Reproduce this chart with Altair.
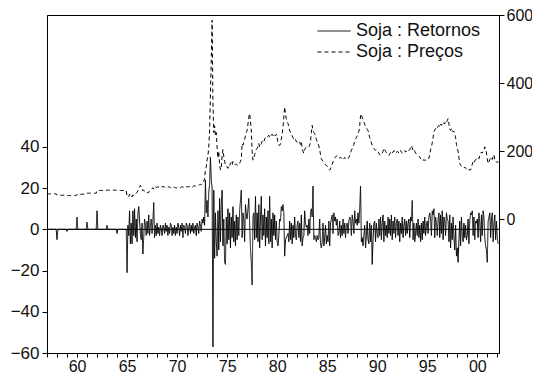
import altair as alt
import pandas as pd

START_YEAR = 1957

# Monthly soybean prices (right axis), one row per year, Jan..Dec
price = [
    75, 75, 75, 75, 75, 75, 75, 75, 75, 75, 75, 75,          # 1957
    71, 71, 71, 71, 71, 71, 71, 71, 71, 71, 71, 71,          # 1958
    70, 70, 70, 70, 70, 70, 70, 70, 70, 70, 70, 70,          # 1959
    74, 74, 74, 74, 74, 74, 74, 74, 74, 74, 74, 74,          # 1960
    77, 77, 77, 77, 77, 77, 77, 77, 77, 77, 77, 77,          # 1961
    85, 85, 85, 85, 85, 85, 85, 85, 85, 85, 85, 85,          # 1962
    86, 86, 86, 86, 86, 86, 86, 86, 86, 86, 86, 86,          # 1963
    85, 85, 85, 85, 85, 85, 85, 85, 85, 85, 85, 85,          # 1964
    68, 69, 67, 74, 69, 71, 66, 72, 70, 72, 74, 77,          # 1965
    80, 84, 90, 96, 100, 95, 92, 84, 86, 82, 80, 78,         # 1966
    77, 80, 79, 85, 86, 88, 91, 93, 89, 96, 95, 94,          # 1967
    95, 96, 95, 97, 98, 96, 95, 97, 96, 95, 94, 96,          # 1968
    95, 94, 96, 95, 93, 94, 92, 93, 95, 94, 93, 92,          # 1969
    93, 94, 95, 94, 93, 95, 96, 95, 94, 96, 97, 96,          # 1970
    95, 96, 97, 96, 98, 97, 95, 96, 98, 99, 98, 97,          # 1971
    98, 99, 100, 102, 103, 101, 104, 107, 112, 120, 145, 155,  # 1972
    175, 185, 215, 260, 370, 470, 585, 340, 255, 275, 245, 255,  # 1973
    210, 180, 200, 160, 145, 150, 190, 205, 185, 170, 160, 158,  # 1974
    154, 150, 160, 158, 165, 168, 160, 170, 165, 160, 163, 162,  # 1975
    160, 158, 162, 165, 170, 178, 223, 218, 227, 235, 245, 255,  # 1976
    262, 280, 300, 311, 290, 260, 200, 174, 180, 190, 200, 205,  # 1977
    209, 215, 223, 212, 218, 222, 230, 232, 228, 236, 240, 238,  # 1978
    242, 245, 247, 240, 244, 248, 250, 246, 252, 248, 245, 250,  # 1979
    240, 225, 218, 217, 222, 235, 250, 270, 300, 330, 310, 295,  # 1980
    285, 282, 270, 262, 255, 252, 245, 240, 236, 232, 235, 228,  # 1981
    227, 230, 225, 227, 220, 228, 210, 200, 194, 205, 210, 212,  # 1982
    212, 215, 213, 217, 228, 255, 276, 262, 255, 252, 245, 235,  # 1983
    228, 223, 215, 205, 190, 178, 174, 170, 166, 163, 160, 158,  # 1984
    157, 152, 147, 145, 148, 155, 162, 169, 175, 180, 183, 186,  # 1985
    188, 185, 182, 180, 183, 179, 176, 180, 178, 182, 179, 177,  # 1986
    180, 178, 182, 188, 195, 203, 208, 215, 220, 232, 236, 240,  # 1987
    245, 252, 258, 275, 305, 310, 298, 291, 285, 280, 272, 268,  # 1988
    265, 261, 250, 240, 235, 225, 217, 212, 208, 206, 203, 205,  # 1989
    203, 198, 195, 190, 188, 192, 195, 200, 209, 205, 200, 196,  # 1990
    194, 190, 188, 192, 196, 200, 195, 198, 202, 197, 199, 196,  # 1991
    200, 198, 195, 199, 203, 197, 194, 196, 199, 202, 198, 200,  # 1992
    196, 199, 202, 205, 210, 217, 210, 203, 206, 200, 195, 192,  # 1993
    190, 188, 185, 183, 178, 175, 174, 172, 176, 173, 174, 175,  # 1994
    174, 176, 180, 190, 205, 213, 225, 240, 257, 262, 266, 271,  # 1995
    268, 273, 276, 271, 280, 276, 281, 278, 284, 280, 288, 285,  # 1996
    290, 296, 280, 265, 261, 268, 262, 257, 259, 250, 240, 220,  # 1997
    210, 200, 180, 165, 160, 157, 155, 152, 151, 154, 150, 148,  # 1998
    147, 145, 148, 144, 146, 153, 162, 169, 165, 172, 175, 178,  # 1999
    180, 183, 178, 188, 192, 198, 195, 200, 205, 213, 208, 195,  # 2000
    178, 164, 170, 175, 183, 180, 176, 185, 190, 175, 172, 168,  # 2001
    170, 166,                                                    # 2002
]

# Monthly returns in % (left axis), one row per year, Jan..Dec
returns = [
    0, 0, 0, 0, 0, 0, 0, 0, 0, 0, 0, 0,                 # 1957
    -5, 0, 0, 0, 0, 0, 0, 0, 0, 0, 0, 0,                # 1958
    -1, 0, 0, 0, 0, 0, 0, 0, 0, 0, 0, 0,                # 1959
    6, 0, 0, 0, 0, 0, 0, 0, 0, 0, 0, 0,                 # 1960
    3.5, 0, 0, 0, 0, 0, 0, 0, 0, 0, 0, 0,               # 1961
    9, 0, 0, 0, 0, 0, 0, 0, 0, 0, 0, 0,                 # 1962
    2, 0, 0, 0, 0, 0, 0, 0, 0, 0, 0, 0,                 # 1963
    -2, 0, 0, 0, 0, 0, 0, 0, 0, 0, 0, 0,                # 1964
    -21, 2, -3, 9, -7, 3, -7, 9, -3, 10, -4, 5,         # 1965
    -6, 8, 11, 4, -2, -5, 3, -12, -4, 5, 2, -3,         # 1966
    4, -2, 7, -3, 2, 5, -2, 4, 13, -4, 2, -3,           # 1967
    3, -2, 1, -3, 2, 0, -3, 2, 1, -2, 3, -1,            # 1968
    2, -3, 1, -2, 3, 2, -3, 1, -2, 2, -3, 1,            # 1969
    -2, 3, 1, -3, 2, -1, 3, -4, 2, 1, -2, 3,            # 1970
    2, -3, 1, 3, -2, 2, -1, 3, -2, 1, 2, -3,            # 1971
    3, 1, -2, 4, 2, -1, 5, 3, 6, 2, 24, 8,              # 1972
    14, 6, 18, 22, 35, 24, 20, -57, 19, -14, 8, -6,     # 1973
    -13, 9, -10, 15, -6, 12, 19, -8, 5, -16, -17, 6,    # 1974
    -7, 10, -5, 8, -9, 6, -4, 11, -6, 4, -8, 7,         # 1975
    -5, 6, -3, 9, 14, 19, -4, 8, 5, -6, 12, 7,          # 1976
    5, 10, 15, 3, -9, -16, -27, 6, 8, -5, 16, -4,       # 1977
    8, -6, 12, -9, 5, 16, -5, 7, -3, 10, -8, 6,         # 1978
    -4, 9, -7, 16, -6, 5, -9, 8, -3, 7, -5, 4,          # 1979
    -6, -8, -3, 5, 4, 11, 9, 12, 8, -13, -5, -4,        # 1980
    -3, -2, -6, 4, -5, 3, -7, 2, -4, 6, -3, -5,         # 1981
    2, 4, -4, 3, -6, 7, -8, -4, -3, 9, 3, 1,            # 1982
    2, -3, 5, -2, 8, 10, 6, 21, -5, -3, -4, -6,         # 1983
    -3, -5, -4, 5, -7, -9, -6, 3, -8, -4, 2, -7,        # 1984
    -3, -6, 4, -8, 3, 5, 7, -2, 8, 4, 6, 2,             # 1985
    5, -3, -2, 4, -4, 2, -3, 5, -2, 3, -4, 2,           # 1986
    3, -2, 4, 6, 5, -3, 7, 4, -2, 9, 3, 5,              # 1987
    2, 8, 3, 10, 21, -6, -4, -8, -3, 2, -9, -3,         # 1988
    4, -5, -7, 3, -6, 2, -17, -5, 3, 4, -6, 3,          # 1989
    -2, -4, 5, -3, 6, -5, 3, 7, -6, 4, -3, 2,           # 1990
    -4, 6, -2, 5, -3, 7, -5, 4, -2, 6, -4, 3,           # 1991
    5, -3, 4, -6, 3, -2, 6, -4, 2, 5, -3, 4,            # 1992
    -2, 3, 5, -4, 6, 4, 14, -5, 3, -6, -2, 3,           # 1993
    -3, 5, -4, 2, -6, 3, -5, 4, -2, 6, -3, 2,           # 1994
    4, -2, 6, 8, 5, -3, 9, 7, 10, -4, 6, 3,             # 1995
    -3, 5, 8, -4, 7, -2, 9, -5, 6, 4, -3, 8,            # 1996
    5, 4, -6, 7, -9, 3, -5, 6, -4, -10, 2, -13,         # 1997
    -9, -16, -5, 4, -8, 6, -3, -6, 3, -4, 2, -5,        # 1998
    -3, 5, -7, 4, 8, 7, 9, -3, 6, -5, 4, 3,             # 1999
    5, -4, 8, 3, -6, 7, -3, 9, 6, -4, -8, -10,          # 2000
    -16, 4, 6, 8, -4, 5, 8, -6, 3, 7, -5, 4,            # 2001
    -4, -7,                                             # 2002
]

series_names = ["Soja : Retornos", "Soja : Preços"]
left_ticks = [-60, -40, -20, 0, 20, 40]
right_ticks = [0, 200, 400, 600]
year_ticks = list(range(1957, 2003))

t_price = [START_YEAR + i / 12 for i in range(len(price))]
t_ret = [START_YEAR + i / 12 for i in range(len(returns))]

df_price = pd.DataFrame({"t": t_price, "v": price, "series": series_names[1]})
df_ret = pd.DataFrame({"t": t_ret, "v": returns, "series": series_names[0]})
df_zero = pd.DataFrame({"z": [0]})

FONT = "Liberation Sans"
FS = 17
INK = "#111111"

xscale = alt.Scale(domain=[1957, 2002.17], nice=False, zero=False)
xaxis = alt.Axis(
    values=year_ticks,
    labelExpr="datum.value % 5 === 0 ? substring(toString(datum.value), 2, 4) : ''",
    title=None, grid=False, tickSize=4, labelOverlap=False, labelFlush=False,
    labelPadding=1, labelFontSize=16,
)

# custom short-height symbol: a horizontal stroke 33px long (scale = sqrt(121)/2)
dash = alt.StrokeDash(
    "series:N",
    scale=alt.Scale(domain=series_names, range=[[1, 0], [4, 3]]),
    legend=alt.Legend(
        title=None, orient="none", legendX=278, legendY=7,
        symbolType="M-3,0H3", symbolSize=121, symbolStrokeWidth=1,
        symbolStrokeColor="black", symbolFillColor="transparent",
        labelFont=FONT, labelFontSize=18,
        labelColor=INK, padding=0, rowPadding=3, labelOffset=13,
    ),
)

lscale = alt.Scale(domain=[-60, 104], nice=False, zero=False)
laxis = alt.Axis(values=left_ticks, orient="left", title=None, grid=False,
                 tickSize=5, labelPadding=3)

ret = alt.Chart(df_ret).mark_line(color="black", strokeWidth=1).encode(
    x=alt.X("t:Q", scale=xscale, axis=xaxis),
    y=alt.Y("v:Q", scale=lscale, axis=laxis),
    strokeDash=dash,
)
zero = alt.Chart(df_zero).mark_rule(color="black", strokeWidth=1).encode(
    y=alt.Y("z:Q", scale=lscale, axis=laxis),
)

rscale = alt.Scale(domain=[-392, 600], nice=False, zero=False)
raxis = alt.Axis(values=right_ticks, orient="right", title=None, grid=False,
                 tickSize=5, labelPadding=2, labelFontSize=16)
prc = alt.Chart(df_price).mark_line(color="black", strokeWidth=1).encode(
    x=alt.X("t:Q", scale=xscale, axis=xaxis),
    y=alt.Y("v:Q", scale=rscale, axis=raxis),
    strokeDash=dash,
)

chart = (
    alt.layer(alt.layer(zero, ret), prc)
    .resolve_scale(y="independent")
    .properties(
        width=452, height=338,
        autosize=alt.AutoSizeParams(type="none"),
        padding={"left": 39, "top": 7, "right": 33, "bottom": 20},
        background="white",
    )
    .configure_view(stroke="black", strokeWidth=1)
    .configure_axis(
        labelFont=FONT, labelFontSize=FS, labelColor=INK,
        domainColor="black", tickColor="black", domainWidth=1, tickWidth=1,
    )
)

chart.save("out.html", embed_options={"renderer": "svg", "actions": False})
